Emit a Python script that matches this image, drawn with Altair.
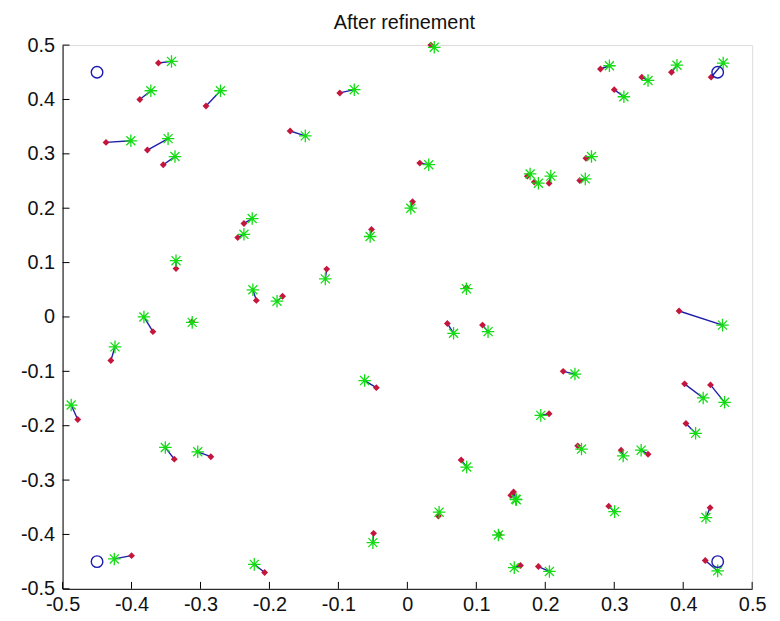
import altair as alt
import pandas as pd

# Red diamonds (positions before refinement)
red_x = [-0.361, -0.388, -0.292, -0.437, -0.377, -0.354, 0.034, -0.098, -0.170, 0.018,
         0.0075, 0.280, 0.340, 0.300, 0.383, 0.4405, 0.174, 0.184, 0.2055, 0.250,
         0.259, -0.246, -0.237, -0.3355, -0.219, -0.3125, -0.369, -0.430, -0.478, -0.052,
         -0.117, -0.181, 0.0856, 0.058, 0.109, -0.045, 0.394, 0.226, 0.402, 0.4396,
         -0.338, -0.285, -0.400, -0.207, -0.049, 0.045, 0.078, 0.150, 0.154, 0.133,
         0.164, 0.190, 0.2055, 0.247, 0.310, 0.349, 0.292, 0.439, 0.404, 0.432]
red_y = [0.467, 0.400, 0.388, 0.321, 0.307, 0.280, 0.500, 0.412, 0.342, 0.283,
         0.212, 0.456, 0.441, 0.418, 0.450, 0.441, 0.259, 0.248, 0.246, 0.251,
         0.292, 0.146, 0.172, 0.089, 0.0305, -0.009, -0.027, -0.080, -0.1885, 0.161,
         0.088, 0.038, 0.054, -0.012, -0.015, -0.130, 0.011, -0.100, -0.123, -0.125,
         -0.2615, -0.257, -0.439, -0.470, -0.398, -0.366, -0.263, -0.328, -0.322, -0.400,
         -0.457, -0.459, -0.178, -0.237, -0.245, -0.2524, -0.348, -0.351, -0.196, -0.448]

# Green asterisks (positions after refinement)
green_x = [-0.342, -0.372, -0.271, -0.401, -0.347, -0.337, 0.039, -0.077, -0.148, 0.031,
           0.005, 0.293, 0.349, 0.314, 0.391, 0.458, 0.178, 0.190, 0.208, 0.258,
           0.267, -0.237, -0.225, -0.3355, -0.224, -0.312, -0.382, -0.424, -0.4875, -0.054,
           -0.119, -0.189, 0.0856, 0.067, 0.117, -0.062, 0.457, 0.243, 0.429, 0.460,
           -0.351, -0.304, -0.425, -0.222, -0.050, 0.046, 0.086, 0.157, 0.158, 0.132,
           0.155, 0.206, 0.1935, 0.2525, 0.313, 0.339, 0.3005, 0.433, 0.418, 0.450]
green_y = [0.470, 0.416, 0.416, 0.324, 0.328, 0.295, 0.496, 0.418, 0.333, 0.280,
           0.200, 0.462, 0.435, 0.405, 0.463, 0.467, 0.263, 0.246, 0.259, 0.254,
           0.295, 0.152, 0.181, 0.1035, 0.050, -0.010, 0.000, -0.055, -0.162, 0.148,
           0.070, 0.029, 0.052, -0.030, -0.027, -0.117, -0.015, -0.105, -0.149, -0.157,
           -0.240, -0.248, -0.445, -0.455, -0.415, -0.359, -0.276, -0.335, -0.336, -0.401,
           -0.461, -0.468, -0.181, -0.243, -0.2555, -0.245, -0.358, -0.369, -0.214, -0.467]

# Blue circles (anchors)
anchor_x = [-0.45, 0.45, -0.45, 0.45]
anchor_y = [0.45, 0.45, -0.45, -0.45]

tick_values = [-0.5, -0.4, -0.3, -0.2, -0.1, 0.0, 0.1, 0.2, 0.3, 0.4, 0.5]

title_text = ["After refinement"]

W, H = 695, 548
FONT = "Liberation Sans"
FS = 20

pairs = pd.DataFrame({"rx": red_x, "ry": red_y, "gx": green_x, "gy": green_y})
anchors = pd.DataFrame({"ax": anchor_x, "ay": anchor_y})
ticks = pd.DataFrame({"t": tick_values})
titles = pd.DataFrame({"label": title_text})

xs = alt.Scale(domain=[-0.5, 0.5], nice=False, zero=False)
ys = alt.Scale(domain=[-0.5, 0.5], nice=False, zero=False)

label_expr = "abs(datum.value) < 1e-9 ? '0' : replace(format(datum.value, '.1f'), '\u2212', '-')"

xaxis = alt.Axis(values=tick_values, labelExpr=label_expr, ticks=False, grid=False,
                 domainColor="black", domainWidth=1, labelFont=FONT, labelFontSize=FS,
                 labelColor="#111", labelPadding=6, title=None, labelFlush=False)
yaxis = alt.Axis(values=tick_values, labelExpr=label_expr, ticks=False, grid=False,
                 domainColor="black", domainWidth=1, labelFont=FONT, labelFontSize=FS,
                 labelColor="#111", labelPadding=8, title=None, labelFlush=False)

lines = alt.Chart(pairs).mark_rule(color="#1e1ea8", strokeWidth=1.4).encode(
    x=alt.X("rx:Q", scale=xs, axis=xaxis),
    y=alt.Y("ry:Q", scale=ys, axis=yaxis),
    x2="gx:Q",
    y2="gy:Q",
)

reds = alt.Chart(pairs).mark_point(shape="diamond", filled=True, color="#c4163c",
                                   size=48, opacity=1).encode(
    x=alt.X("rx:Q", scale=xs), y=alt.Y("ry:Q", scale=ys))

star = "M-1,0L1,0M0,-1L0,1M-0.72,-0.72L0.72,0.72M-0.72,0.72L0.72,-0.72"
greens = alt.Chart(pairs).mark_point(shape=star, filled=False, color="#14dc14",
                                     size=160, strokeWidth=1.3, opacity=1).encode(
    x=alt.X("gx:Q", scale=xs), y=alt.Y("gy:Q", scale=ys))

circles = alt.Chart(anchors).mark_point(shape="circle", filled=False, color="#1a1ab0",
                                        size=135, strokeWidth=1.4, opacity=1).encode(
    x=alt.X("ax:Q", scale=xs), y=alt.Y("ay:Q", scale=ys))

xticks = alt.Chart(ticks).mark_rule(color="black", strokeWidth=1).encode(
    x=alt.X("t:Q", scale=xs), y=alt.value(H), y2=alt.value(H - 7))
yticks = alt.Chart(ticks).mark_rule(color="black", strokeWidth=1).encode(
    y=alt.Y("t:Q", scale=ys), x=alt.value(0), x2=alt.value(7))

title_mark = alt.Chart(titles).mark_text(font=FONT, fontSize=FS, color="#111",
                                         align="center", baseline="alphabetic").encode(
    text="label:N", x=alt.value(W / 2 - 3), y=alt.value(-16))

chart = alt.layer(lines, xticks, yticks, reds, greens, circles, title_mark).properties(
    width=W, height=H,
    autosize=alt.AutoSizeParams(type="none"),
    padding={"left": 55, "top": 35, "right": 20, "bottom": 25},
).configure_view(stroke=None).configure(background="white")

chart.save("out.html", embed_options={"renderer": "svg", "actions": False})
